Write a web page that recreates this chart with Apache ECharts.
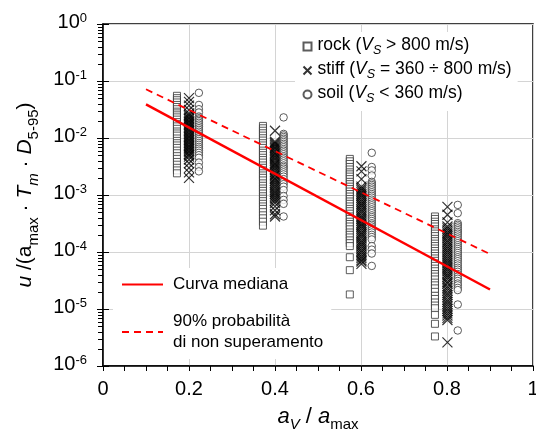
<!DOCTYPE html>
<html>
<head>
<meta charset="utf-8">
<script src="https://cdn.jsdelivr.net/npm/echarts@6/dist/echarts.min.js"></script>
<style>
  html, body { margin: 0; padding: 0; background: #fff; }
  #chart { width: 536px; height: 432px; }
</style>
</head>
<body>
<div id="chart"></div>
<script>
// Normalised displacement vs. a_v / a_max, grouped by site class.
const xTickValues = [0, 0.2, 0.4, 0.6, 0.8, 1];
const yMin = 1e-6;
const yMax = 1;

// Horizontal position of each site class within the a_v/a_max groups
const rockX = [0.172, 0.372, 0.574, 0.772];
const stiffX = [0.2, 0.4, 0.601, 0.801];
const soilX = [0.223, 0.42, 0.625, 0.825];

// rock (Vs > 800 m/s)
const rockAt02 = [0.055, 0.050, 0.046, 0.042, 0.038, 0.035, 0.032, 0.029, 0.027, 0.025, 0.023, 0.021, 0.019, 0.0175, 0.016, 0.0145, 0.013, 0.012, 0.011, 0.0098, 0.0089, 0.0081, 0.0074, 0.0067, 0.006, 0.0054, 0.0048, 0.0043, 0.0038, 0.0034, 0.003, 0.0027, 0.0024];
const rockAt04 = [0.0163, 0.0148, 0.0134, 0.0121, 0.011, 0.0099, 0.009, 0.0081, 0.0074, 0.0067, 0.006, 0.0055, 0.005, 0.0045, 0.0041, 0.0037, 0.0033, 0.003, 0.0027, 0.0024, 0.0022, 0.002, 0.0018, 0.0016, 0.00145, 0.0013, 0.00118, 0.00106, 0.00095, 0.00086, 0.00078, 0.0007, 0.00063, 0.00057, 0.0005, 0.00044, 0.00039, 0.00034, 0.00029];
const rockAt06 = [0.0043, 0.0039, 0.0035, 0.0031, 0.0028, 0.0025, 0.0023, 0.0021, 0.0019, 0.0017, 0.00155, 0.0014, 0.00127, 0.00115, 0.00104, 0.00094, 0.00085, 0.00077, 0.0007, 0.00063, 0.00057, 0.00052, 0.00047, 0.00042, 0.00038, 0.00034, 0.00031, 0.00028, 0.00025, 0.00022, 0.0002, 0.00018, 0.00016, 0.000143, 0.000127, 0.000081, 0.000048, 0.000018];
const rockAt08 = [0.00042, 0.00038, 0.00034, 0.00031, 0.00028, 0.00025, 0.00023, 0.00021, 0.00019, 0.00017, 0.000155, 0.00014, 0.000127, 0.000115, 0.000104, 0.000094, 0.000085, 0.000077, 0.00007, 0.000063, 0.000057, 0.000051, 0.000046, 0.000041, 0.000037, 0.000033, 0.000029, 0.000026, 0.000023, 0.00002, 0.000017, 0.000015, 0.000013, 0.0000115, 0.0000103, 0.0000079, 0.0000055, 0.0000033];

// stiff (Vs = 360 - 800 m/s)
const stiffAt02 = [0.050, 0.043, 0.037, 0.031, 0.027, 0.0255, 0.024, 0.0226, 0.0213, 0.02, 0.0189, 0.0178, 0.0168, 0.0158, 0.0149, 0.014, 0.0132, 0.0124, 0.0117, 0.011, 0.0104, 0.0098, 0.0092, 0.0087, 0.0082, 0.0077, 0.0072, 0.0068, 0.0064, 0.006, 0.0057, 0.0053, 0.005, 0.0047, 0.0042, 0.0036, 0.003, 0.0025, 0.002];
const stiffAt04 = [0.0134, 0.0086, 0.0081, 0.0076, 0.0071, 0.0067, 0.0063, 0.0059, 0.0055, 0.0052, 0.0049, 0.0046, 0.0043, 0.004, 0.0037, 0.0035, 0.0033, 0.0031, 0.0029, 0.0027, 0.0025, 0.0023, 0.0022, 0.002, 0.0019, 0.00178, 0.00165, 0.00153, 0.00142, 0.00132, 0.00122, 0.00113, 0.00105, 0.00097, 0.0009, 0.00084, 0.00078, 0.00072, 0.00063, 0.00054, 0.00046, 0.00042];
const stiffAt06 = [0.0032, 0.0026, 0.0019, 0.0014, 0.0013, 0.00121, 0.00112, 0.00104, 0.00097, 0.0009, 0.00083, 0.00077, 0.00071, 0.00066, 0.00061, 0.00056, 0.00052, 0.00048, 0.00044, 0.00041, 0.00038, 0.00035, 0.00032, 0.0003, 0.00028, 0.00026, 0.00024, 0.00022, 0.000205, 0.00019, 0.000175, 0.00016, 0.000148, 0.000137, 0.000126, 0.000116, 0.000107, 0.000099, 0.000091, 0.000084, 0.000078, 0.000072, 0.000068, 0.000062];
const stiffAt08 = [0.00062, 0.00045, 0.00033, 0.00028, 0.00026, 0.00024, 0.00022, 0.000205, 0.00019, 0.000175, 0.00016, 0.000148, 0.000136, 0.000125, 0.000115, 0.000106, 0.000098, 0.00009, 0.000083, 0.000076, 0.00007, 0.000064, 0.000059, 0.000054, 0.00005, 0.000046, 0.000042, 0.000039, 0.000036, 0.000033, 0.00003, 0.000028, 0.000025, 0.000023, 0.000021, 0.000019, 0.0000175, 0.000016, 0.0000145, 0.0000133, 0.0000122, 0.0000111, 0.0000101, 0.0000092, 0.0000084, 0.0000077, 0.000007, 0.0000064, 0.0000026];

// soil (Vs < 360 m/s)
const soilAt02 = [0.062, 0.038, 0.032, 0.028, 0.0237, 0.0222, 0.021, 0.0198, 0.0185, 0.0172, 0.016, 0.0149, 0.0139, 0.0129, 0.012, 0.0111, 0.0103, 0.0096, 0.0089, 0.0082, 0.0076, 0.007, 0.0065, 0.006, 0.0055, 0.005, 0.0045, 0.0037, 0.0031, 0.0026];
const soilAt04 = [0.023, 0.0118, 0.0111, 0.0104, 0.0097, 0.0091, 0.0085, 0.0079, 0.0074, 0.0069, 0.0064, 0.006, 0.0056, 0.0052, 0.0048, 0.0045, 0.0042, 0.0039, 0.0036, 0.0033, 0.0031, 0.0029, 0.0027, 0.0025, 0.0023, 0.0021, 0.0019, 0.0017, 0.00155, 0.0014, 0.00122, 0.00096, 0.00082, 0.0007, 0.00042];
const soilAt06 = [0.0055, 0.0031, 0.0027, 0.0022, 0.0017, 0.0016, 0.0015, 0.0014, 0.0013, 0.00121, 0.00112, 0.00104, 0.00097, 0.0009, 0.00083, 0.00077, 0.00071, 0.00066, 0.00061, 0.00056, 0.00052, 0.00048, 0.00044, 0.00041, 0.00038, 0.00035, 0.00032, 0.0003, 0.00028, 0.00026, 0.00024, 0.00022, 0.0002, 0.000183, 0.000166, 0.000127, 0.00011, 0.000094, 0.000057];
const soilAt08 = [0.00067, 0.00048, 0.00032, 0.0003, 0.00028, 0.00026, 0.000242, 0.000225, 0.00021, 0.000195, 0.00018, 0.000167, 0.000155, 0.000143, 0.000132, 0.000122, 0.000113, 0.000104, 0.000096, 0.000088, 0.000081, 0.000075, 0.000069, 0.000063, 0.000058, 0.000053, 0.000049, 0.000045, 0.000041, 0.000037, 0.000034, 0.000031, 0.000028, 0.000026, 0.0000235, 0.0000215, 0.000012, 0.0000042];

// Regression lines (straight in log space)
const lineX = [0.1, 0.9];
const medianY = [0.039, 0.000022];
const p90Y = [0.0715, 0.000092];

const FONT = '"Liberation Sans", Arial, sans-serif';

function column(x, values) { return values.map(v => [x, v]); }
function group(xs, cols) {
  let out = [];
  cols.forEach((vals, i) => { out = out.concat(column(xs[i], vals)); });
  return out;
}

const rockData = group(rockX, [rockAt02, rockAt04, rockAt06, rockAt08]);
const stiffData = group(stiffX, [stiffAt02, stiffAt04, stiffAt06, stiffAt08]);
const soilData = group(soilX, [soilAt02, soilAt04, soilAt06, soilAt08]);
const medianData = lineX.map((x, i) => [x, medianY[i]]);
const p90Data = lineX.map((x, i) => [x, p90Y[i]]);

const subRich = {
  i: { fontStyle: 'italic', fontFamily: FONT, fontSize: 17.5, lineHeight: 21, verticalAlign: 'top', color: '#000' },
  t: { fontFamily: FONT, fontSize: 17.5, lineHeight: 21, verticalAlign: 'top', color: '#000' },
  s: { fontStyle: 'italic', fontFamily: FONT, fontSize: 12.5, lineHeight: 7, verticalAlign: 'bottom', color: '#000' }
};

const legendLabels = {
  rock: '{t|rock (}{i|V}{s|S}{t| > 800 m/s)}',
  stiff: '{t|stiff (}{i|V}{s|S}{t| = 360 ÷ 800 m/s)}',
  soil: '{t|soil (}{i|V}{s|S}{t| < 360 m/s)}',
  median: 'Curva mediana',
  p90: '90% probabilità\ndi non superamento'
};

const chart = echarts.init(document.getElementById('chart'), null, { renderer: 'canvas' });

const grid = {
  left: 103, right: 3, top: 24, bottom: 66,
  outerBoundsMode: 'none', containLabel: false,
  show: true, borderColor: '#000', borderWidth: 1.5, backgroundColor: 'transparent'
};

const option = {
  animation: false,
  backgroundColor: '#fff',
  grid: grid,
  xAxis: {
    type: 'value', min: 0, max: 1, interval: 0.2,
    axisLine: { show: true, onZero: false, lineStyle: { color: '#000', width: 1.5 } },
    axisTick: { show: true, inside: false, length: 5, lineStyle: { color: '#000', width: 1 } },
    minorTick: { show: true, splitNumber: 4, length: 5, lineStyle: { color: '#000', width: 1 } },
    splitLine: { show: true, lineStyle: { color: '#d4d4d4', width: 1 } },
    axisLabel: {
      margin: 13, fontSize: 20, fontFamily: FONT, color: '#000',
      formatter: v => (xTickValues.includes(v) ? String(v) : '')
    },
    name: '{i|a}{s|V}{t| / }{i|a}{n|max}',
    nameLocation: 'middle', nameGap: 40,
    nameTextStyle: {
      rich: {
        i: { fontStyle: 'italic', fontFamily: FONT, fontSize: 22, lineHeight: 26, verticalAlign: 'top', color: '#000' },
        t: { fontFamily: FONT, fontSize: 22, lineHeight: 26, verticalAlign: 'top', color: '#000' },
        s: { fontStyle: 'italic', fontFamily: FONT, fontSize: 15, lineHeight: 12, verticalAlign: 'bottom', color: '#000' },
        n: { fontFamily: FONT, fontSize: 15, lineHeight: 12, verticalAlign: 'bottom', color: '#000' }
      }
    }
  },
  yAxis: [{
    type: 'log', logBase: 10, min: yMin, max: yMax,
    axisLine: { show: true, onZero: false, lineStyle: { color: '#000', width: 1.5 } },
    axisTick: { show: true, inside: false, length: 6, lineStyle: { color: '#000', width: 1 } },
    splitLine: { show: true, lineStyle: { color: '#d4d4d4', width: 1 } },
    axisLabel: {
      margin: 16,
      formatter: v => '{b|10}{e|' + Math.round(Math.log10(v)) + '}',
      rich: {
        b: { fontFamily: FONT, fontSize: 20, lineHeight: 24, verticalAlign: 'top', color: '#000' },
        e: { fontFamily: FONT, fontSize: 13, lineHeight: 8, verticalAlign: 'top', color: '#000' }
      }
    },
    name: '{i|u}{t| /(a}{n|max}{t| · }{i|T}{s|m}{t| · }{i|D}{n|5-95}{t|)}',
    nameLocation: 'middle', nameGap: 62, nameRotate: 90,
    nameTextStyle: {
      rich: {
        i: { fontStyle: 'italic', fontFamily: FONT, fontSize: 21, lineHeight: 26, verticalAlign: 'top', color: '#000' },
        t: { fontFamily: FONT, fontSize: 21, lineHeight: 26, verticalAlign: 'top', color: '#000' },
        s: { fontStyle: 'italic', fontFamily: FONT, fontSize: 15, lineHeight: 12, verticalAlign: 'bottom', color: '#000' },
        n: { fontFamily: FONT, fontSize: 15, lineHeight: 12, verticalAlign: 'bottom', color: '#000' }
      }
    }
  }, {
    // inner half of the decade ticks
    type: 'log', logBase: 10, min: yMin, max: yMax, position: 'left', offset: 0,
    axisLine: { show: false },
    axisTick: { show: true, inside: true, length: 6, lineStyle: { color: '#000', width: 1 } },
    axisLabel: { show: false },
    splitLine: { show: false }
  }],
  legend: [{
    orient: 'vertical', left: 295, top: 32,
    itemWidth: 8, itemHeight: 8, itemGap: 3,
    padding: [4, 6, 6, 6],
    backgroundColor: '#fff',
    data: ['rock', 'stiff', 'soil'],
    formatter: n => legendLabels[n],
    textStyle: { fontFamily: FONT, fontSize: 17.5, color: '#000', padding: [0, 0, 0, 1], rich: subRich },
    selectedMode: false
  }, {
    orient: 'vertical', left: 113, top: 268,
    itemWidth: 41, itemHeight: 14, itemGap: 16,
    padding: [6, 8, 6, 8],
    backgroundColor: '#fff',
    data: ['median', 'p90'],
    formatter: n => legendLabels[n],
    itemStyle: { opacity: 0 },
    textStyle: { fontFamily: FONT, fontSize: 17, lineHeight: 21, color: '#000', padding: [0, 0, 0, 5] },
    selectedMode: false
  }],
  series: [
    {
      name: 'rock', type: 'scatter', data: rockData,
      symbol: 'rect', symbolSize: 7,
      itemStyle: { color: '#fff', borderColor: '#333', borderWidth: 1 },
      emphasis: { disabled: true }, z: 3
    },
    {
      name: 'stiff', type: 'scatter', data: stiffData,
      symbol: 'path://M0,0L10,10M10,0L0,10', symbolSize: 10,
      itemStyle: { color: 'none', borderColor: '#000', borderWidth: 1.2 },
      emphasis: { disabled: true }, z: 3
    },
    {
      name: 'soil', type: 'scatter', data: soilData,
      symbol: 'circle', symbolSize: 7.5,
      itemStyle: { color: '#fff', borderColor: '#333', borderWidth: 1 },
      emphasis: { disabled: true }, z: 3
    },
    {
      name: 'median', type: 'line', data: medianData,
      symbol: 'none', lineStyle: { color: '#ff0000', width: 2.5 }, itemStyle: { color: '#ff0000' },
      emphasis: { disabled: true }, z: 4
    },
    {
      name: 'p90', type: 'line', data: p90Data,
      symbol: 'none', lineStyle: { color: '#ff0000', width: 1.8, type: [7, 5] }, itemStyle: { color: '#ff0000' },
      emphasis: { disabled: true }, z: 4
    }
  ]
};

chart.setOption(option);

// Logarithmic minor ticks (2..9 x 10^n) on the outer side of the y axis
const minorTicks = [];
const axisX = grid.left;
for (let n = -6; n < 0; n++) {
  for (let k = 2; k <= 9; k++) {
    const y = chart.convertToPixel({ yAxisIndex: 0 }, k * Math.pow(10, n));
    minorTicks.push({
      type: 'line', silent: true, z: 10,
      shape: { x1: axisX - 5, y1: Math.round(y) + 0.5, x2: axisX, y2: Math.round(y) + 0.5 },
      style: { stroke: '#000', lineWidth: 1 }
    });
  }
}
chart.setOption({ graphic: minorTicks });
</script>
</body>
</html>
